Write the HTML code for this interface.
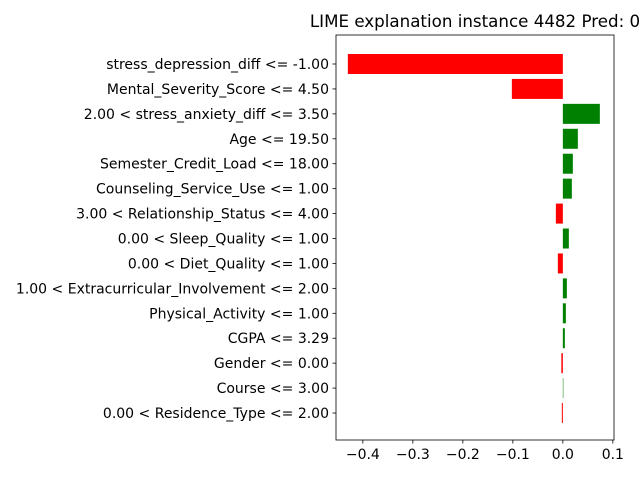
<!DOCTYPE html>
<html><head><meta charset="utf-8"><style>
body{margin:0;background:#fff;}
svg{display:block;font-family:"DejaVu Sans","Liberation Sans",sans-serif;}
</style></head><body>
<svg id="chart" width="640" height="480"></svg>
<script>
const features=["stress_depression_diff <= -1.00","Mental_Severity_Score <= 4.50","2.00 < stress_anxiety_diff <= 3.50","Age <= 19.50","Semester_Credit_Load <= 18.00","Counseling_Service_Use <= 1.00","3.00 < Relationship_Status <= 4.00","0.00 < Sleep_Quality <= 1.00","0.00 < Diet_Quality <= 1.00","1.00 < Extracurricular_Involvement <= 2.00","Physical_Activity <= 1.00","CGPA <= 3.29","Gender <= 0.00","Course <= 3.00","0.00 < Residence_Type <= 2.00"];
const weights=[-0.43,-0.102,0.074,0.03,0.02,0.018,-0.014,0.012,-0.01,0.008,0.006,0.004,-0.003,0.001,-0.002];
const xTicks=[-0.4,-0.3,-0.2,-0.1,0.0,0.1];
const xTickLabels=["\u22120.4","\u22120.3","\u22120.2","\u22120.1","0.0","0.1"];
const NS="http://www.w3.org/2000/svg";
const svg=document.getElementById('chart');
const L=336,R=614,T=35,B=440;
const xMin=-0.4537,xMax=0.1023;
const x=v=>L+(v-xMin)/(xMax-xMin)*(R-L);
const step=24.93,y0=64;
const y=i=>y0+i*step;
function mk(t,a,p){const e=document.createElementNS(NS,t);for(const k in a)e.setAttribute(k,a[k]);(p||svg).appendChild(e);return e;}
weights.forEach((w,i)=>{
  const r=mk('rect',{x:Math.min(x(0),x(w)),y:y(i)-10,width:Math.abs(x(w)-x(0)),height:20,fill:w<0?'#ff0000':'#008000'});
  
  
  mk('line',{x1:L,x2:L-3.5,y1:y(i),y2:y(i),stroke:'#000','stroke-width':0.8});
  const t=mk('text',{x:L-7,y:y(i)+5,'text-anchor':'end','font-size':14});
  t.textContent=features[i];
  
  
});
xTicks.forEach((v,i)=>{
  mk('line',{x1:x(v),x2:x(v),y1:B,y2:B+3.5,stroke:'#000','stroke-width':0.8});
  const t=mk('text',{x:x(v),y:B+19,'text-anchor':'middle','font-size':14});
  t.textContent=xTickLabels[i];
  
  
});
const f=mk('rect',{x:L,y:T,width:R-L,height:B-T,fill:'none',stroke:'#000','stroke-width':0.8});


const ti=mk('text',{x:(L+R)/2,y:T-8,'text-anchor':'middle','font-size':16.7});
ti.textContent='LIME explanation instance 4482 Pred: 0';


</script>
</body></html>
